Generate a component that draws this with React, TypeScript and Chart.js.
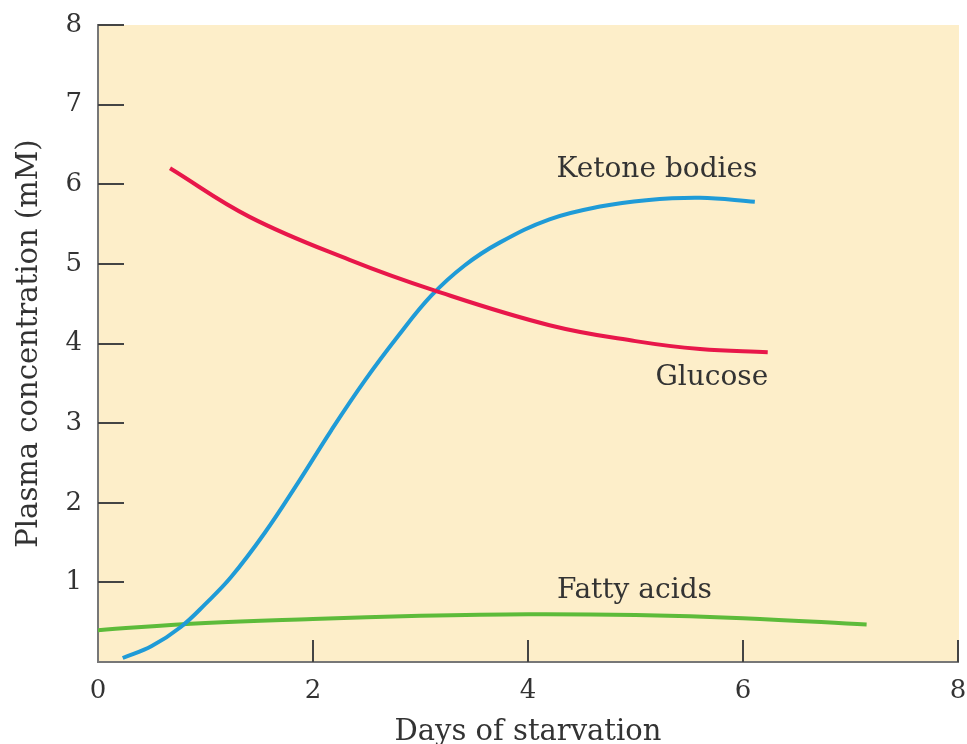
import React, { useEffect, useRef } from "react";
import { Chart, registerables } from "chart.js";

Chart.register(...registerables);

const glucoseX = [0.67, 1.41, 2.34, 3.12, 4.2, 5, 5.6, 6.23];
const glucoseY = [6.2, 5.59, 5.05, 4.67, 4.23, 4.03, 3.93, 3.89];

const ketoneX = [0.23, 0.5, 0.77, 1.0, 1.24, 1.55, 1.86, 2.17, 2.48, 2.79, 3.1, 3.41, 3.74, 4.2, 4.67, 5.1, 5.6, 6.11];
const ketoneY = [0.05, 0.2, 0.44, 0.73, 1.07, 1.62, 2.25, 2.91, 3.53, 4.09, 4.6, 4.98, 5.27, 5.56, 5.72, 5.8, 5.83, 5.78];

const fattyX = [0, 1, 2, 3, 4, 5, 6, 7.15];
const fattyY = [0.4, 0.49, 0.54, 0.58, 0.6, 0.59, 0.55, 0.47];

const xTicks = [0, 2, 4, 6, 8];
const yTicks = [1, 2, 3, 4, 5, 6, 7, 8];

const curveLabels = ["Ketone bodies", "Glucose", "Fatty acids"];
const curveLabelX = [5.2, 5.71, 4.99];
const curveLabelY = [6.18, 3.57, 0.89];

const FONT = "'DejaVu Serif', 'Liberation Serif', serif";
const TEXT = "#333333";

const pts = (xs: number[], ys: number[]) => xs.map((x, i) => ({ x, y: ys[i] }));

export default function App() {
  const ref = useRef<HTMLCanvasElement | null>(null);
  useEffect(() => {
    if (!ref.current) return;
    const bgPlugin = {
      id: "bg",
      beforeDraw(chart: any) {
        const { ctx, chartArea: a } = chart;
        ctx.save();
        ctx.fillStyle = "#FDEEC9";
        ctx.fillRect(a.left, a.top, a.right - a.left + 1, a.bottom - a.top);
        ctx.restore();
      },
      afterDraw(chart: any) {
        const { ctx, chartArea: a, scales } = chart;
        ctx.save();
        ctx.strokeStyle = "#444";
        ctx.lineWidth = 2;
        yTicks.forEach((v) => {
          const y = Math.round(scales.y.getPixelForValue(v));
          ctx.beginPath();
          ctx.moveTo(a.left, y);
          ctx.lineTo(a.left + 26, y);
          ctx.stroke();
        });
        xTicks.slice(1).forEach((v) => {
          const x = Math.round(scales.x.getPixelForValue(v));
          ctx.beginPath();
          ctx.moveTo(x, a.bottom);
          ctx.lineTo(x, a.bottom - 22);
          ctx.stroke();
        });
        ctx.fillStyle = TEXT;
        ctx.font = `28px ${FONT}`;
        ctx.textAlign = "center";
        ctx.textBaseline = "middle";
        curveLabels.forEach((t, i) => {
          ctx.fillText(t, scales.x.getPixelForValue(curveLabelX[i]), scales.y.getPixelForValue(curveLabelY[i]));
        });
        ctx.restore();
      },
    };
    const common = { borderWidth: 4, pointRadius: 0, tension: 0.4, fill: false };
    const chart = new Chart(ref.current, {
      type: "line",
      data: {
        datasets: [
          { label: "Glucose", data: pts(glucoseX, glucoseY), borderColor: "#E8174A", ...common },
          { label: "Ketone bodies", data: pts(ketoneX, ketoneY), borderColor: "#1F9BD7", ...common },
          { label: "Fatty acids", data: pts(fattyX, fattyY), borderColor: "#5DBB3A", ...common },
        ],
      },
      options: {
        animation: false,
        responsive: false,
        maintainAspectRatio: false,
        layout: { padding: { top: 25, right: 9, left: 0, bottom: 0 } },
        plugins: { legend: { display: false }, tooltip: { enabled: false } },
        scales: {
          x: {
            type: "linear",
            min: 0,
            max: 8,
            afterBuildTicks: (s: any) => { s.ticks = xTicks.map((v) => ({ value: v })); },
            afterFit: (s: any) => { s.height = 82; s.paddingRight = 0; s.paddingLeft = 0; },
            grid: { display: false },
            border: { display: true, color: "#777", width: 2 },
            ticks: { color: TEXT, padding: 6, font: { family: FONT, size: 26 }, maxRotation: 0 },
            title: { display: true, text: "Days of starvation", color: TEXT, font: { family: FONT, size: 29 }, padding: { top: 0, bottom: -6 } },
          },
          y: {
            type: "linear",
            min: 0,
            max: 8,
            afterBuildTicks: (s: any) => { s.ticks = yTicks.map((v) => ({ value: v })); },
            afterFit: (s: any) => { s.width = 98; s.paddingTop = 0; s.paddingBottom = 0; },
            grid: { display: false },
            border: { display: true, color: "#777", width: 2 },
            ticks: { color: TEXT, padding: 8, font: { family: FONT, size: 26 } },
            title: { display: true, text: "Plasma concentration (mM)", color: TEXT, font: { family: FONT, size: 29 }, padding: { top: 12, bottom: 0 } },
          },
        },
      },
      plugins: [bgPlugin],
    } as any);
    return () => chart.destroy();
  }, []);
  return (
    <div style={{ position: "absolute", left: 0, top: 0, width: 967, height: 744, background: "#fff" }}>
      <canvas ref={ref} width={967} height={744} style={{ width: 967, height: 744 }} />
    </div>
  );
}
